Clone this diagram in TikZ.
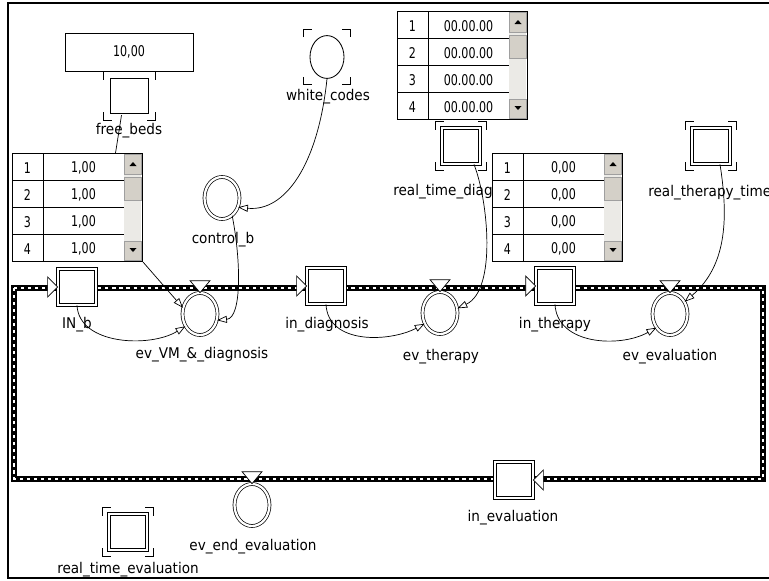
\documentclass[tikz,border=0pt]{standalone}
\usepackage{fontspec}
\usepackage{tikz}
\usetikzlibrary{shapes.geometric,arrows.meta,calc}
\newfontfamily\lblfont[FakeStretch=0.92]{DejaVu Sans}
\newfontfamily\tabfont[FakeStretch=0.75]{DejaVu Sans}
\definecolor{btnface}{HTML}{D4D0C8}
\definecolor{trackgray}{HTML}{EBEAE6}

\begin{document}
\begin{tikzpicture}[
x=0.025cm, y=-0.025cm,
font=\lblfont\fontsize{10.5}{12}\selectfont,
dplace/.style={draw, double, double distance=1.6pt, line width=0.5pt, fill=white, minimum width=0.95cm, minimum height=0.9cm, inner sep=0pt},
splace/.style={draw, line width=0.6pt, fill=white, minimum width=0.96cm, minimum height=0.89cm, inner sep=0pt},
event/.style={draw, ellipse, double, double distance=1.6pt, line width=0.5pt, fill=white, minimum width=0.875cm, minimum height=1.05cm, inner sep=0pt},
lbl/.style={inner sep=0pt},
trihead/.style={draw, fill=white, line width=0.5pt, line join=miter},
rail/.style={line width=4.2pt},
railw/.style={white, line width=1.3pt, dash pattern=on 2.2pt off 2.8pt},
tabframe/.style={draw, line width=0.7pt, fill=white, minimum width=3.25cm, minimum height=2.7cm, inner sep=0pt, anchor=north west},
tabtxt/.style={inner sep=0pt, font=\tabfont\fontsize{10.5}{12}\selectfont},
btn/.style={fill=btnface, draw=gray!75, line width=0.4pt},
brk/.style={line width=0.6pt},
arr/.style={-{Triangle[open,length=7pt,width=5pt]}, line width=0.5pt}
]
\useasboundingbox (0,0) rectangle (769,580);
\clip (0,0) rectangle (769,580);

% Window frame
\draw[line width=1.4pt] (775,3) -| (8,578) -- (775,578);

% Main rail
\coordinate (tl) at (14,288);
\coordinate (tr) at (763,288);
\coordinate (br) at (763,479);
\coordinate (bl) at (14,479);
\draw[rail] (tl) -- (tr) -- (br) -- (bl) -- cycle;
\draw[railw] (tl) -- (tr) -- (br) -- (bl) -- cycle;

% Places on the rail
\node[dplace] (inb) at (77,287) {};
\node[dplace] (indiag) at (326,286) {};
\node[dplace] (inth) at (555,286) {};
\node[dplace] (ineval) at (514,480) {};

% Events
\node[event] (vm) at (200,314) {};
\node[event] (evth) at (440,313) {};
\node[event] (evev) at (670,314) {};
\node[event] (evend) at (252,505) {};
\node[event] (ctrl) at (222,198) {};

% Heads on the rail
\foreach \n in {inb,indiag,inth}
  \draw[trihead] (\n.west) -- ++(-10,-10) -- ++(0,20) -- cycle;
\draw[trihead] (ineval.east) -- ++(10,-10) -- ++(0,20) -- cycle;
\foreach \n in {vm,evth,evev,evend}
  \draw[trihead] (\n.north) -- ++(-10,-12) -- ++(20,0) -- cycle;

% Other places
\node[splace] (beds) at (129.5,96) {};
\node[draw, ellipse, line width=0.6pt, fill=white, minimum width=0.85cm, minimum height=1.07cm, inner sep=0pt] (white) at (327,57) {};
\node[dplace] (rtd) at (461,146) {};
\node[dplace] (rtt) at (711,146) {};
\node[dplace] (rteval) at (128,532) {};
\node[draw, line width=0.6pt, minimum width=3.2cm, minimum height=0.95cm, tabtxt] (bedsval) at (129,52) {10,00};

% Labels
\node[lbl] (beds lbl) at (129,131) {free\_beds};
\node[lbl] (white lbl) at (328,97) {white\_codes};
\node[lbl] (ctrl lbl) at (223,240) {control\_b};
\node[lbl] (inb lbl) at (77,325) {IN\_b};
\node[lbl] (vm lbl) at (202,355) {ev\_VM\_\&\_diagnosis};
\node[lbl] (indiag lbl) at (327,325) {in\_diagnosis};
\node[lbl] (evth lbl) at (441,357) {ev\_therapy};
\node[lbl, anchor=west] (rtd lbl) at (393,192) {real\_time\_diagnosis};
\node[lbl] (inth lbl) at (555,325) {in\_therapy};
\node[lbl, anchor=west] (rtt lbl) at (648,193) {real\_therapy\_time};
\node[lbl] (evev lbl) at (670,357) {ev\_evaluation};
\node[lbl] (ineval lbl) at (513,518) {in\_evaluation};
\node[lbl] (evend lbl) at (253,547) {ev\_end\_evaluation};
\node[lbl] (rteval lbl) at (128,570) {real\_time\_evaluation};

% Tables
\foreach \nm/\tx/\ty/\val in {tba/12/153/{1,00}, tbb/397/11/00.00.00, tbc/492/153/{0,00}} {
  \node[tabframe] (\nm) at (\tx,\ty) {};
  \foreach \r in {1,2,3}
    \draw[line width=0.7pt] (\tx,\ty+27*\r) -- (\tx+112,\ty+27*\r);
  \draw[line width=0.7pt] (\tx+31,\ty) -- (\tx+31,\ty+108);
  \foreach \r in {1,...,4} {
    \node[tabtxt] (\nm r\r) at (\tx+15.5,\ty+27*\r-12) {\r};
    \node[tabtxt] (\nm v\r) at (\tx+71.5,\ty+27*\r-12) {\val};
  }
  % scrollbar
  \fill[trackgray] (\tx+112,\ty+0.6) rectangle (\tx+129.4,\ty+107.4);
  \draw[btn] (\tx+112.5,\ty+1) rectangle (\tx+129,\ty+21);
  \draw[btn] (\tx+112.5,\ty+24) rectangle (\tx+129,\ty+47);
  \draw[btn] (\tx+112.5,\ty+88) rectangle (\tx+129,\ty+107);
  \fill (\tx+117.5,\ty+13) -- (\tx+124.5,\ty+13) -- (\tx+121,\ty+9) -- cycle;
  \fill (\tx+117.5,\ty+95) -- (\tx+124.5,\ty+95) -- (\tx+121,\ty+99) -- cycle;
}

% Connections
\draw[line width=0.5pt] ($(beds.south)+(-8,1)$) -- ($(tba.north)+(38,0)$);
\draw[arr] (white.south) .. controls (318,165) and (285,212) .. (ctrl.-30);
\draw[arr] (ctrl.-60) .. controls (241,260) and (242,318) .. (vm.-20);
\draw[arr] (tba.south east) -- (vm.160);
\draw[arr] (inb.south) .. controls (79,345) and (150,348) .. (vm.-140);
\draw[arr] (indiag.south) .. controls (328,345) and (390,342) .. (evth.-145);
\draw[arr] ($(rtd.south)+(13,0)$) .. controls (488,200) and (497,290) .. (evth.15);
\draw[arr] (inth.south) .. controls (557,345) and (620,348) .. (evev.-135);
\draw[arr] ($(rtt.south)+(9,0)$) .. controls (728,215) and (728,265) .. (evev.40);

% Corner brackets
\foreach \n in {beds,white,rtd,rtt,rteval} {
  \draw[brk] ($(\n.north -| \n.west)+(-6,2)$) -- ++(0,-8) -- ++(8,0);
  \draw[brk] ($(\n.north -| \n.east)+(-2,-6)$) -- ++(8,0) -- ++(0,8);
  \draw[brk] ($(\n.south -| \n.west)+(-6,-2)$) -- ++(0,8) -- ++(8,0);
  \draw[brk] ($(\n.south -| \n.east)+(-2,6)$) -- ++(8,0) -- ++(0,-8);
}

\end{tikzpicture}
\end{document}
